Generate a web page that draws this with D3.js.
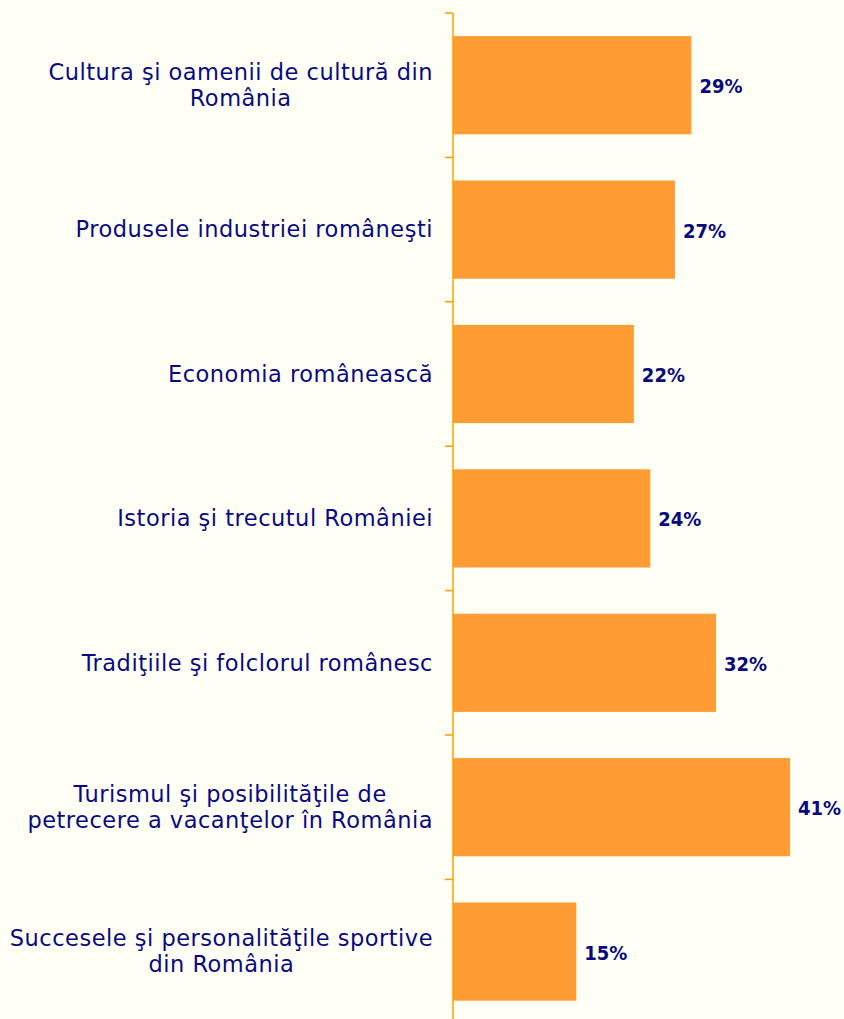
<!DOCTYPE html>
<html>
<head>
<meta charset="utf-8">
<script src="https://cdn.jsdelivr.net/npm/d3@7"></script>
<style>
  body { margin: 0; background: #fffff5; }
  svg { display: block; }
</style>
</head>
<body>
<svg></svg>
<script>
const categories = [
  ["Cultura şi oamenii de cultură din", "România"],
  ["Produsele industriei româneşti"],
  ["Economia românească"],
  ["Istoria şi trecutul României"],
  ["Tradiţiile şi folclorul românesc"],
  ["Turismul şi posibilităţile de", "petrecere a vacanţelor în România"],
  ["Succesele şi personalităţile sportive", "din România"]
];
const values = [29, 27, 22, 24, 32, 41, 15];

const width = 844;
const height = 1019;
const margin = { top: 13, right: 0, bottom: 0, left: 453 };
const labelRight = 433;

const svg = d3.select("svg")
  .attr("width", width)
  .attr("height", height)
  .style("background", "#fffff5");

const x = d3.scaleLinear().domain([0, 47.56]).range([margin.left, width]);
const y = d3.scaleBand()
  .domain(d3.range(categories.length))
  .range([margin.top, margin.top + 144.4 * categories.length])
  .paddingInner(0.32)
  .paddingOuter(0.16);

const step = y.step();

// bars
svg.selectAll("rect.bar")
  .data(values)
  .enter()
  .append("rect")
  .attr("class", "bar")
  .attr("x", x(0))
  .attr("y", (d, i) => y(i))
  .attr("width", (d) => x(d) - x(0))
  .attr("height", y.bandwidth())
  .style("fill", "#ff9c33");

// axis line + ticks at top of each category band
svg.append("line")
  .attr("x1", x(0)).attr("x2", x(0))
  .attr("y1", margin.top).attr("y2", height)
  .style("stroke", "#ffa000").style("stroke-width", 1.5);

svg.selectAll("line.tick")
  .data(d3.range(categories.length))
  .enter()
  .append("line")
  .attr("class", "tick")
  .attr("x1", x(0) - 8).attr("x2", x(0))
  .attr("y1", (d) => margin.top + d * step)
  .attr("y2", (d) => margin.top + d * step)
  .style("stroke", "#ffa000").style("stroke-width", 1.5);

// category labels
const labels = svg.selectAll("text.cat")
  .data(categories)
  .enter()
  .append("text")
  .attr("class", "cat")
  .attr("text-anchor", "end")
  .style("font-family", "'DejaVu Sans', sans-serif")
  .style("font-size", "22.5px")
  .style("letter-spacing", "0.5px")
  .style("fill", "#0a0a80");

labels.each(function (d, i) {
  const cy = y(i) + y.bandwidth() / 2;
  const lh = 26;
  const start = cy - ((d.length - 1) * lh) / 2;
  d.forEach((line, j) => {
    d3.select(this)
      .append("tspan")
      .attr("x", labelRight)
      .attr("y", start + j * lh)
      .attr("dy", "0.35em")
      .text(line);
  });
});

// two-line labels are centered on the widest line, right edge at labelRight
labels.each(function (d) {
  if (d.length < 2) return;
  const spans = d3.select(this).selectAll("tspan").nodes();
  const w = d3.max(spans, (s) => s.getComputedTextLength());
  const mid = labelRight - w / 2;
  d3.select(this).attr("text-anchor", "middle");
  spans.forEach((s) => d3.select(s).attr("x", mid));
});

// value labels
svg.selectAll("text.val")
  .data(values)
  .enter()
  .append("text")
  .attr("class", "val")
  .attr("x", (d) => x(d) + 8)
  .attr("y", (d, i) => y(i) + y.bandwidth() / 2 + 1)
  .attr("dy", "0.35em")
  .style("font-family", "'DejaVu Sans Condensed', 'DejaVu Sans', sans-serif")
  .style("font-weight", "bold")
  .style("font-size", "20px")
  .style("fill", "#0a0a80")
  .text((d) => d + "%");
</script>
</body>
</html>
